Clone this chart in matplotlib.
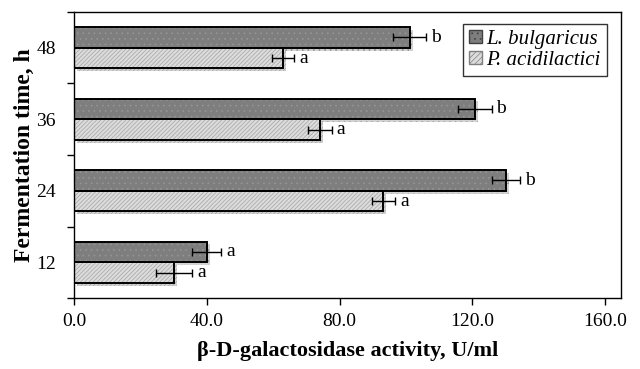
import matplotlib
matplotlib.use("Agg")
import matplotlib.pyplot as plt
from matplotlib.patches import Patch
import matplotlib.patheffects as pe
import numpy as np

categories = ["12", "24", "36", "48"]
l_bulgaricus = [40.0, 130.1, 120.8, 101.2]
l_err = [4.3, 4.2, 5.0, 5.0]
l_letters = ["a", "b", "b", "b"]
p_acidilactici = [30.2, 93.2, 74.1, 63.0]
p_err = [5.4, 3.5, 3.5, 3.4]
p_letters = ["a", "a", "a", "a"]
x_ticks = [0, 40, 80, 120, 160]
series_names = ["L. bulgaricus", "P. acidilactici"]

plt.rcParams['font.family'] = ['Liberation Serif', 'DejaVu Serif']
plt.rcParams['hatch.linewidth'] = 0.5

fig = plt.figure(figsize=(6.4, 3.69), dpi=100)
ax = fig.add_axes([0.1156, 0.1924, 0.8547, 0.7751])

y = np.arange(len(categories))
h = 0.29
shadow = [pe.SimplePatchShadow(offset=(2, -2), alpha=0.35, shadow_rgbFace='#808080'), pe.Normal()]

# filled / textured bars
ax.barh(y + h / 2, l_bulgaricus, height=h, color='#7e7e7e', edgecolor='#959595',
        linewidth=0, hatch='...', zorder=2, path_effects=shadow)
ax.barh(y - h / 2, p_acidilactici, height=h, color='#dcdcdc', edgecolor='#a4a4a4',
        linewidth=0, hatch='////////', zorder=2, path_effects=shadow)
# black outlines
ax.barh(y + h / 2, l_bulgaricus, height=h, fill=False, edgecolor='black',
        linewidth=1.4, zorder=2.5)
ax.barh(y - h / 2, p_acidilactici, height=h, fill=False, edgecolor='black',
        linewidth=1.4, zorder=2.5)

ax.errorbar(l_bulgaricus, y + h / 2, xerr=l_err, fmt='none', ecolor='black',
            elinewidth=1.0, capsize=3.2, capthick=1.0, zorder=3)
ax.errorbar(p_acidilactici, y - h / 2, xerr=p_err, fmt='none', ecolor='black',
            elinewidth=1.0, capsize=3.2, capthick=1.0, zorder=3)
for i in range(len(categories)):
    ax.text(l_bulgaricus[i] + l_err[i] + 1.5, y[i] + h / 2, l_letters[i],
            va='center', ha='left', fontsize=14)
    ax.text(p_acidilactici[i] + p_err[i] + 1.5, y[i] - h / 2, p_letters[i],
            va='center', ha='left', fontsize=14)

ax.set_xlim(0, 164.8)
ax.set_ylim(-0.5, 3.5)
ax.set_xticks(x_ticks)
ax.set_xticklabels([f"{v:.1f}" for v in x_ticks], fontsize=14)
ax.set_yticks(y)
ax.set_yticklabels(categories, fontsize=14)
ax.tick_params(axis='y', which='major', length=0, pad=13)
ax.set_yticks([-0.5, 0.5, 1.5, 2.5, 3.5], minor=True)
ax.tick_params(axis='y', which='minor', length=5, width=1)
ax.tick_params(axis='x', which='major', length=5, width=1, direction='out', pad=6)
for s in ax.spines.values():
    s.set_linewidth(1.0)

ax.set_xlabel('β-D-galactosidase activity, U/ml', fontsize=16, fontweight='bold', labelpad=8)
ax.set_ylabel('Fermentation time, h', fontsize=17, fontweight='bold', labelpad=1)

handles = [Patch(facecolor='#7e7e7e', edgecolor='#404040', linewidth=1.0, hatch='...'),
           Patch(facecolor='#dcdcdc', edgecolor='#808080', linewidth=1.0, hatch='//////')]
leg = ax.legend(handles, series_names, loc='upper right', bbox_to_anchor=(0.985, 0.98),
                prop={'style': 'italic', 'size': 15},
                frameon=True, fancybox=False, edgecolor='black', handlelength=0.6,
                handleheight=0.6, handletextpad=0.2, borderpad=0.3, labelspacing=0.08,
                borderaxespad=0.3)
leg.get_frame().set_linewidth(1.0)

fig.savefig('out.png', dpi=100)
